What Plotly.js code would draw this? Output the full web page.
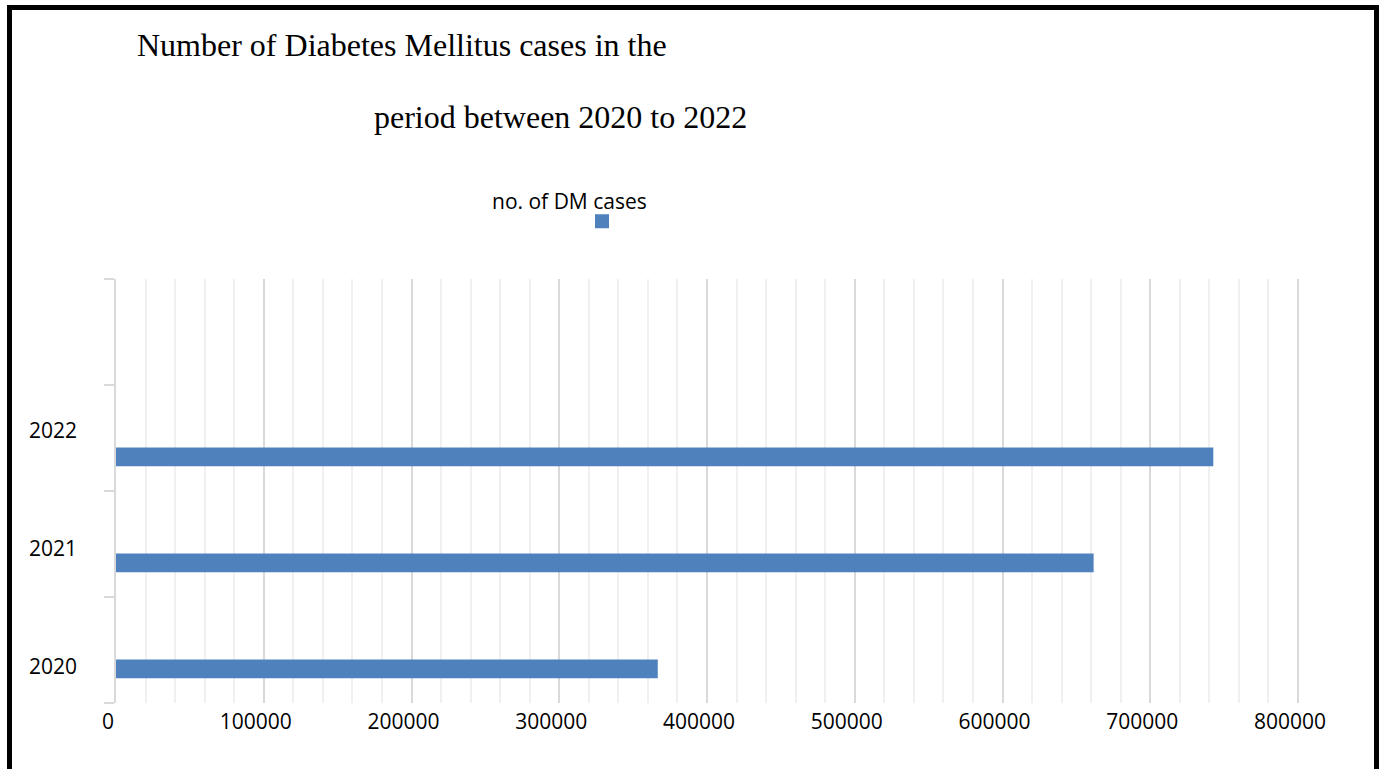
<!DOCTYPE html>
<html>
<head>
<meta charset="utf-8">
<script src="https://cdn.plot.ly/plotly-3.0.1.min.js"></script>
<style>
  html, body { margin: 0; padding: 0; background: #fff; }
  #wrap { position: relative; width: 1381px; height: 769px; }
  #chart { position: absolute; left: 0; top: 0; width: 1381px; height: 769px; }
  #frame { position: absolute; left: 7px; top: 5px; width: 1362px; height: 800px;
           border-left: 5px solid #000; border-top: 5px solid #000; border-right: 5px solid #000;
           pointer-events: none; }
</style>
</head>
<body>
<div id="wrap">
  <div id="chart"></div>
  <div id="frame"></div>
</div>
<script>
// ---- data ----
const years = [2020, 2021, 2022];
const dmCases = [366000, 661000, 742000];
const seriesName = 'no. of DM cases';
const titleLine1 = 'Number of Diabetes Mellitus cases in the';
const titleLine2 = 'period between 2020 to 2022';
const xTickValues = [0, 100000, 200000, 300000, 400000, 500000, 600000, 700000, 800000];

// ---- styling / layout helpers ----
const sansFont = 'Open Sans, Noto Sans, sans-serif';
const serifFont = 'Liberation Serif, Times New Roman, serif';
const barColor = '#4f81bd';
const yLabelShift = [-16, -4, 8];           // small vertical nudges of the category labels

const lastYear = years[years.length - 1];
const boundaries = years.map(y => y - 0.5).concat([lastYear + 0.5, lastYear + 1.5]);

// plot area in pixels (used to place the paper-referenced texts)
const plotL = 116, plotR = 1302, plotT = 279, plotB = 703;
const px2x = p => (p - plotL) / (plotR - plotL);
const px2y = p => (plotB - p) / (plotB - plotT);
const xMax = 800000 * (plotR - plotL) / 1182;   // 800000 sits at x=1298, a few px inside the edge so its gridline shows

const trace = {
  type: 'bar',
  orientation: 'h',
  x: dmCases,
  y: years,
  name: '',
  width: 0.158,
  offset: -0.2566,
  marker: { color: barColor, line: { color: barColor, width: 2 } },
  showlegend: true,
  hoverinfo: 'x+y'
};

const annotations = years.map((yr, i) => ({
  xref: 'paper', yref: 'y',
  x: 0, y: yr,
  xanchor: 'right', yanchor: 'middle',
  xshift: -37, yshift: yLabelShift[i],
  text: String(yr),
  showarrow: false,
  font: { family: sansFont, size: 21, color: '#000' }
}));

annotations.push({
  xref: 'paper', yref: 'paper',
  x: px2x(372), y: px2y(117),
  xanchor: 'left', yanchor: 'middle',
  text: titleLine2,
  showarrow: false,
  font: { family: serifFont, size: 32, color: '#000' }
});

annotations.push({
  xref: 'paper', yref: 'paper',
  x: px2x(569), y: px2y(201),
  xanchor: 'center', yanchor: 'middle',
  text: seriesName,
  showarrow: false,
  font: { family: sansFont, size: 21, color: '#000' }
});

const layout = {
  width: 1381,
  height: 769,
  margin: { l: plotL, r: 1381 - plotR, t: plotT, b: 769 - plotB, pad: 0 },
  paper_bgcolor: '#fff',
  plot_bgcolor: '#fff',
  title: {
    text: titleLine1,
    font: { family: serifFont, size: 32, color: '#000' },
    xref: 'container', yref: 'container',
    x: 137 / 1381, xanchor: 'left',
    y: 1 - 45 / 769, yanchor: 'middle'
  },
  xaxis: {
    range: [0, xMax],
    tickvals: xTickValues,
    ticktext: xTickValues.map(v => String(v)),
    showgrid: true,
    gridcolor: '#d9d9d9',
    gridwidth: 2,
    zeroline: false,
    showline: false,
    ticks: '',
    ticklabelshift: -8,
    ticklabelstandoff: 4,
    tickfont: { family: sansFont, size: 21, color: '#000' },
    minor: { dtick: 20000, tick0: 0, showgrid: true, gridcolor: '#f0f0f0', gridwidth: 2, ticks: '' },
    fixedrange: true
  },
  yaxis: {
    range: [boundaries[0], boundaries[boundaries.length - 1]],
    tickvals: boundaries,
    ticktext: boundaries.map(() => ''),
    showticklabels: false,
    ticks: 'outside',
    ticklen: 10,
    tickwidth: 2,
    tickcolor: '#d9d9d9',
    showline: true,
    linecolor: '#d9d9d9',
    linewidth: 2,
    showgrid: false,
    zeroline: false,
    fixedrange: true
  },
  showlegend: true,
  legend: {
    orientation: 'h',
    xref: 'paper', yref: 'paper',
    x: px2x(582), xanchor: 'left',
    y: px2y(201), yanchor: 'top',
    bgcolor: 'rgba(0,0,0,0)',
    itemwidth: 30,
    font: { family: sansFont, size: 21, color: '#000' }
  },
  annotations: annotations
};

Plotly.newPlot('chart', [trace], layout, { displayModeBar: false, staticPlot: true });
</script>
</body>
</html>
